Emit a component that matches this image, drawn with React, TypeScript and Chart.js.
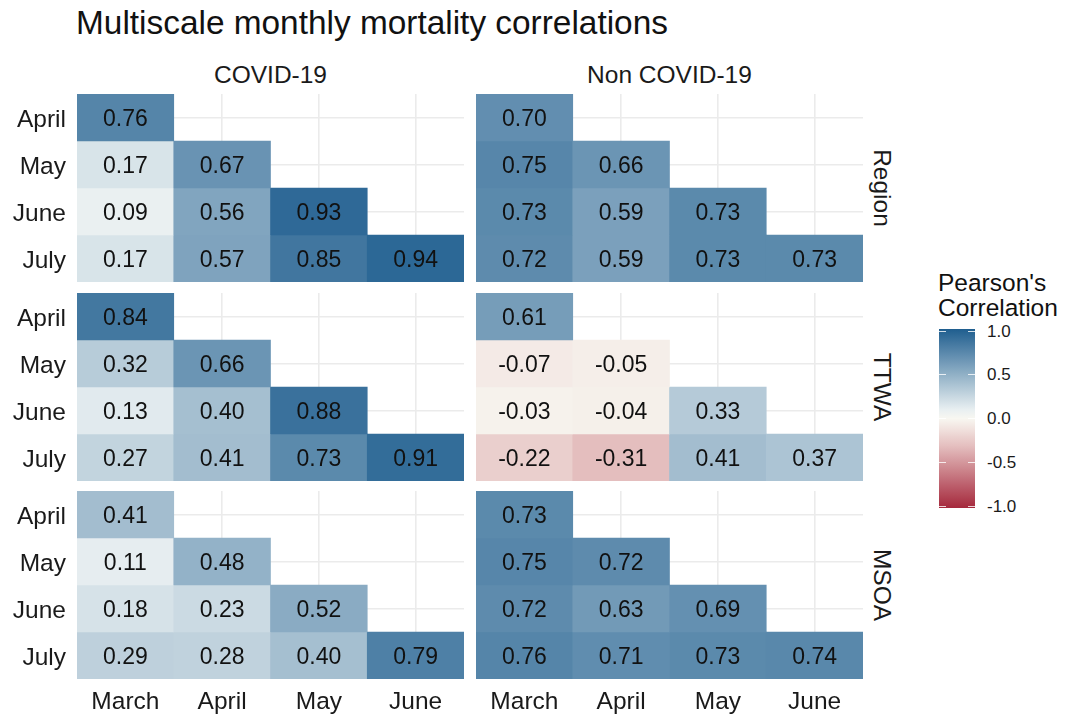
import React, { useEffect, useRef } from "react";
import { Chart, registerables } from "chart.js";
Chart.register(...registerables);

const FONT = "'Liberation Sans', Arial, sans-serif";

const chartTitle = "Multiscale monthly mortality correlations";
const colCategories = ["March", "April", "May", "June"];
const rowCategories = ["April", "May", "June", "July"];
const facetColumns = ["COVID-19", "Non COVID-19"];
const facetRows = ["Region", "TTWA", "MSOA"];

const covidRegion = [[0.76], [0.17, 0.67], [0.09, 0.56, 0.93], [0.17, 0.57, 0.85, 0.94]];
const nonCovidRegion = [[0.70], [0.75, 0.66], [0.73, 0.59, 0.73], [0.72, 0.59, 0.73, 0.73]];
const covidTTWA = [[0.84], [0.32, 0.66], [0.13, 0.40, 0.88], [0.27, 0.41, 0.73, 0.91]];
const nonCovidTTWA = [[0.61], [-0.07, -0.05], [-0.03, -0.04, 0.33], [-0.22, -0.31, 0.41, 0.37]];
const covidMSOA = [[0.41], [0.11, 0.48], [0.18, 0.23, 0.52], [0.29, 0.28, 0.40, 0.79]];
const nonCovidMSOA = [[0.73], [0.75, 0.72], [0.72, 0.63, 0.69], [0.76, 0.71, 0.73, 0.74]];

const legendTitle = ["Pearson's", "Correlation"];
const legendTicks = [1.0, 0.5, 0.0, -0.5, -1.0];
const legendTickLabels = ["1.0", "0.5", "0.0", "-0.5", "-1.0"];

const panelValues = [
  [covidRegion, nonCovidRegion],
  [covidTTWA, nonCovidTTWA],
  [covidMSOA, nonCovidMSOA],
];

// ---- diverging colour scale (piecewise RGB) ----
const colorStopValues = [-1, -0.3, 0, 0.1, 1];
const colorStopRGB = [
  [165, 40, 60],
  [229, 192, 192],
  [248, 247, 241],
  [232, 239, 241],
  [31, 94, 143],
];
function fillColor(v: number) {
  const x = Math.max(-1, Math.min(1, v));
  let i = 0;
  while (i < colorStopValues.length - 2 && x > colorStopValues[i + 1]) i++;
  const a = colorStopValues[i], b = colorStopValues[i + 1];
  const t = (x - a) / (b - a);
  const c = colorStopRGB[i].map((ca, k) => Math.round(ca + (colorStopRGB[i + 1][k] - ca) * t));
  return `rgb(${c[0]},${c[1]},${c[2]})`;
}

// layout
const colLeft = [77, 476];
const panelW = 387;
const rowTop = [94, 293, 491];
const panelH = 188;
const yAxisW = 77;
const xAxisH = 40;

function Panel({ r, c }: { r: number; c: number }) {
  const ref = useRef<HTMLCanvasElement>(null);
  const showY = c === 0;
  const showX = r === 2;
  const width = panelW + (showY ? yAxisW : 0);
  const height = panelH + (showX ? xAxisH : 0);
  useEffect(() => {
    const values = panelValues[r][c];
    const datasets = rowCategories.map((rowName, ri) => ({
      label: rowName,
      data: colCategories.map((_, ci) => (ci <= ri ? [ri + 0.5, ri + 1.5] : null)),
      backgroundColor: colCategories.map((_, ci) => (ci <= ri ? fillColor(values[ri][ci]) : "rgba(0,0,0,0)")),
      borderWidth: 0,
      barPercentage: 1,
      categoryPercentage: 1,
      grouped: false,
    }));
    const labelPlugin = {
      id: "cellLabels",
      afterDatasetsDraw(chart: any) {
        const ctx = chart.ctx;
        ctx.save();
        ctx.font = `23px ${FONT}`;
        ctx.fillStyle = "#111111";
        ctx.textAlign = "center";
        ctx.textBaseline = "middle";
        chart.data.datasets.forEach((_: any, ri: number) => {
          const meta = chart.getDatasetMeta(ri);
          meta.data.forEach((el: any, ci: number) => {
            if (ci > ri) return;
            const p = el.getProps(["x", "y", "base"], true);
            ctx.fillText(values[ri][ci].toFixed(2), p.x, (p.y + p.base) / 2 + 2.5);
          });
        });
        ctx.restore();
      },
    };
    const chart = new Chart(ref.current as HTMLCanvasElement, {
      type: "bar",
      data: { labels: colCategories, datasets: datasets as any },
      options: {
        animation: false,
        responsive: false,
        maintainAspectRatio: false,
        layout: { padding: 0 },
        plugins: { legend: { display: false }, tooltip: { enabled: false }, title: { display: false } },
        scales: {
          x: {
            type: "category",
            offset: true,
            grid: { offset: false, color: "#ebebeb", lineWidth: 1.6, drawTicks: false },
            border: { display: false },
            ticks: { display: showX, padding: 9, color: "#1a1a1a", font: { size: 24.5, family: FONT } },
            afterFit: (s: any) => {
              s.height = showX ? xAxisH : 0;
              s.paddingLeft = 0;
              s.paddingRight = 0;
            },
          },
          y: {
            type: "linear",
            min: 0.5,
            max: 4.5,
            reverse: true,
            afterBuildTicks: (s: any) => {
              s.ticks = [1, 2, 3, 4].map((v) => ({ value: v }));
            },
            grid: { color: "#ebebeb", lineWidth: 1.6, drawTicks: false },
            border: { display: false },
            ticks: {
              display: showY,
              padding: 11,
              labelOffset: 2.5,
              color: "#1a1a1a",
              font: { size: 24.5, family: FONT },
              callback: (v: any) => rowCategories[Math.round(Number(v)) - 1] ?? "",
            },
            afterFit: (s: any) => {
              s.width = showY ? yAxisW : 0;
              s.paddingTop = 0;
              s.paddingBottom = 0;
            },
          },
        },
      } as any,
      plugins: [labelPlugin],
    });
    return () => chart.destroy();
  }, []);
  return (
    <canvas
      ref={ref}
      width={width}
      height={height}
      style={{
        position: "absolute",
        left: colLeft[c] - (showY ? yAxisW : 0),
        top: rowTop[r],
        width,
        height,
      }}
    />
  );
}

export default function App() {
  const barTop = 329;
  const barBottom = 508;
  const tickY = (v: number) => 418.5 - v * 87.5;
  const gradStops: string[] = [];
  for (let i = 0; i <= 40; i++) {
    const v = 1 - (i / 40) * 2;
    gradStops.push(`${fillColor(v)} ${(i / 40) * 100}%`);
  }
  const text: React.CSSProperties = { position: "absolute", whiteSpace: "nowrap", color: "#111", lineHeight: 1 };
  return (
    <div
      style={{
        position: "absolute",
        left: 0,
        top: 0,
        width: 1066,
        height: 716,
        background: "#fff",
        fontFamily: FONT,
        overflow: "hidden",
      }}
    >
      <div style={{ ...text, left: 76, top: 6, fontSize: 33.4 }}>{chartTitle}</div>
      {facetColumns.map((name, c) => (
        <div key={name} style={{ ...text, left: colLeft[c], top: 63, width: panelW, textAlign: "center", fontSize: 24.5, color: "#1a1a1a" }}>
          {name}
        </div>
      ))}
      {facetRows.map((name, r) => (
        <div
          key={name}
          style={{
            ...text,
            left: 882,
            top: rowTop[r] + panelH / 2,
            fontSize: 24.5,
            color: "#1a1a1a",
            transform: "translate(-50%, -50%) rotate(90deg)",
          }}
        >
          {name}
        </div>
      ))}
      {panelValues.map((row, r) => row.map((_, c) => <Panel key={`${r}-${c}`} r={r} c={c} />))}
      <div style={{ ...text, left: 938, top: 270, fontSize: 24.5, lineHeight: "25px" }}>
        {legendTitle.map((t) => (
          <div key={t}>{t}</div>
        ))}
      </div>
      <div
        style={{
          position: "absolute",
          left: 939,
          top: barTop,
          width: 36,
          height: barBottom - barTop,
          background: `linear-gradient(to bottom, ${gradStops.join(", ")})`,
        }}
      />
      {legendTicks.map((v, i) => (
        <React.Fragment key={i}>
          <div style={{ position: "absolute", left: 939, top: tickY(v) - 0.5, width: 7, height: 1, background: "rgba(255,255,255,0.8)" }} />
          <div style={{ position: "absolute", left: 968, top: tickY(v) - 0.5, width: 7, height: 1, background: "rgba(255,255,255,0.8)" }} />
          <div style={{ ...text, left: 987, top: tickY(v) - 0.49 * 17, fontSize: 17, color: "#1a1a1a" }}>{legendTickLabels[i]}</div>
        </React.Fragment>
      ))}
    </div>
  );
}
